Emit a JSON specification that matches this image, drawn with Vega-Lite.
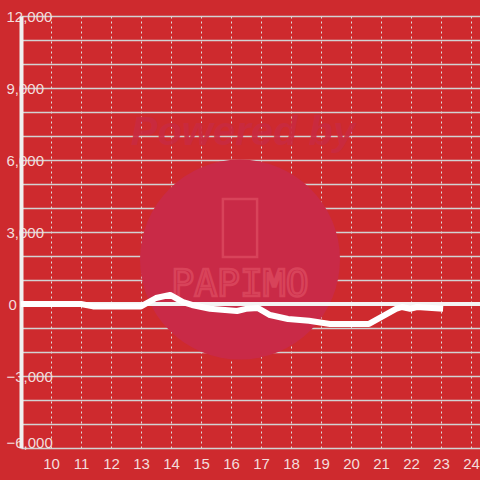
{
  "$schema": "https://vega.github.io/schema/vega-lite/v6.json",
  "width": 459,
  "height": 432,
  "autosize": "none",
  "padding": {"left": 21, "top": 16, "right": 0, "bottom": 32},
  "background": "#ce2a2e",
  "config": {
    "view": {"stroke": null},
    "font": "Liberation Sans"
  },
  "datasets": {
    "series": [
      {"hour": 9.0, "value": 0},
      {"hour": 11.0, "value": 0},
      {"hour": 11.4, "value": -100},
      {"hour": 13.0, "value": -100},
      {"hour": 13.5, "value": 250},
      {"hour": 13.97, "value": 380},
      {"hour": 14.4, "value": 80},
      {"hour": 14.7, "value": -40},
      {"hour": 15.3, "value": -200},
      {"hour": 16.2, "value": -290},
      {"hour": 16.5, "value": -200},
      {"hour": 16.9, "value": -170},
      {"hour": 17.3, "value": -460},
      {"hour": 17.9, "value": -625},
      {"hour": 18.6, "value": -700},
      {"hour": 19.3, "value": -830},
      {"hour": 20.6, "value": -830},
      {"hour": 21.5, "value": -200},
      {"hour": 21.7, "value": -125},
      {"hour": 21.97, "value": -200},
      {"hour": 22.2, "value": -125},
      {"hour": 23.07, "value": -200}
    ],
    "mark": [
      {"hour": 16.3, "value": 1850}
    ],
    "phone": [
      {"hour": 16.3, "value": 3170}
    ],
    "texts": [
      {"hour": 16.4, "value": 7125, "label": "Powered by", "kind": "a"},
      {"hour": 16.3, "value": 790, "label": "PAPIMO", "kind": "b"}
    ]
  },
  "encoding": {
    "x": {"field": "hour", "type": "quantitative", "scale": {"domain": [9, 24.3], "nice": false, "zero": false},
      "axis": {"values": [10,11,12,13,14,15,16,17,18,19,20,21,22,23,24], "title": null, "grid": true, "gridDash": [2,3], "gridColor": "#dedede", "gridWidth": 1, "gridOpacity": 1, "domain": false, "ticks": false, "labelColor": "#f3dcdc", "labelFontSize": 15, "labelPadding": 8, "format": "d", "labelFont": "Liberation Sans", "labelOverlap": false}},
    "y": {"field": "value", "type": "quantitative", "scale": {"domain": [-6000, 12000], "nice": false},
      "axis": {"values": [-6000,-5000,-4000,-3000,-2000,-1000,0,1000,2000,3000,4000,5000,6000,7000,8000,9000,10000,11000,12000], "labelExpr": "datum.value % 3000 === 0 ? format(datum.value, ',') : ''", "title": null, "grid": true, "gridColor": "#d2d2d2", "gridWidth": 1.5, "gridOpacity": 1, "domain": true, "domainColor": "#f0f0f0", "domainWidth": 4, "ticks": false, "labelAlign": "left",
        "labelPadding": {"condition": {"test": "datum.value === 0", "value": 13}, "value": 15},
        "labelOffset": {"condition": {"test": "datum.value === -6000", "value": -6}, "value": 0},
        "labelColor": "#f3dcdc", "labelFontSize": 15, "labelFont": "Liberation Sans", "labelOverlap": false, "labelBound": false, "labelFlush": false}}
  },
  "layer": [
    {
      "data": {"name": "mark"},
      "mark": {"type": "point", "filled": true, "shape": "circle", "size": 40000, "color": "#c92a47", "opacity": 1}
    },
    {
      "data": {"name": "phone"},
      "mark": {"type": "point", "filled": false, "shape": "M-0.59,-1 L0.59,-1 L0.59,1 L-0.59,1 Z", "size": 3364, "color": "#d8435a", "strokeWidth": 2.5, "opacity": 1}
    },
    {
      "data": {"name": "texts"},
      "transform": [{"filter": "datum.kind === 'a'"}],
      "mark": {"type": "text", "font": "Liberation Sans", "fontWeight": "bold", "fontStyle": "italic", "fontSize": 40, "color": "#c92a40", "opacity": 0.9},
      "encoding": {
        "text": {"field": "label"}
      }
    },
    {
      "data": {"name": "texts"},
      "transform": [{"filter": "datum.kind === 'b'"}],
      "mark": {"type": "text", "font": "DejaVu Sans Mono", "fontSize": 38, "fill": "#ce2a47", "fillOpacity": 0, "stroke": "#d8435a", "strokeWidth": 2.5},
      "encoding": {
        "text": {"field": "label"}
      }
    },
    {
      "data": {"name": "series"},
      "mark": {"type": "rule", "color": "#f4f4f4", "strokeWidth": 3},
      "encoding": {"y": {"datum": 0, "type": "quantitative"}, "x": null}
    },
    {
      "data": {"name": "series"},
      "mark": {"type": "line", "color": "#ffffff", "strokeWidth": 6, "strokeJoin": "round", "strokeCap": "butt"}
    }
  ]
}
